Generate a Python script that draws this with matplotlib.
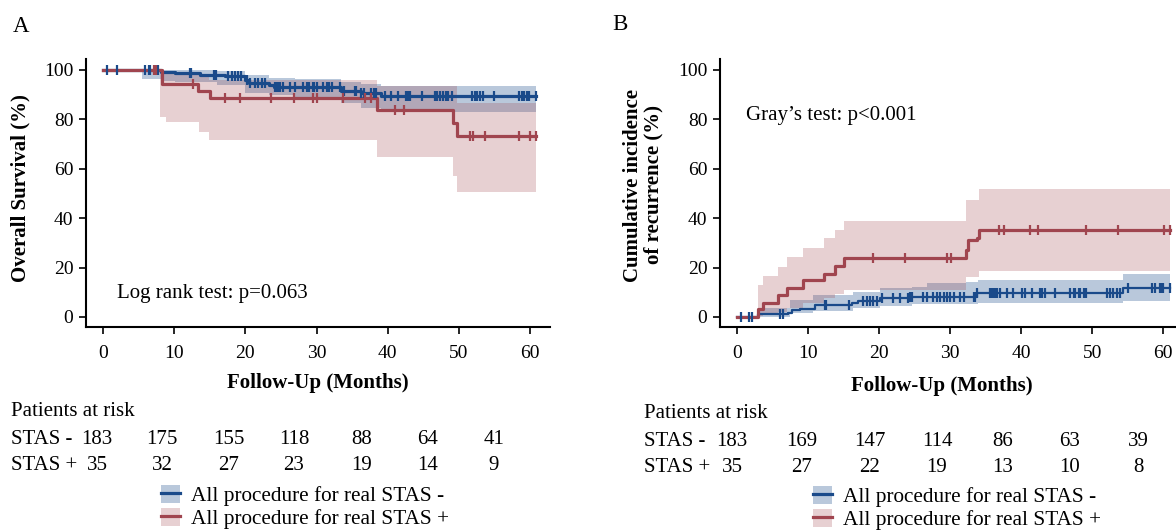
import numpy as np
import matplotlib
matplotlib.use('Agg')
import matplotlib.pyplot as plt
from matplotlib.patches import Patch
from matplotlib.lines import Line2D
from matplotlib.legend_handler import HandlerTuple

plt.rcParams['font.family'] = ['Liberation Serif', 'DejaVu Serif']

# ---- panel A: overall survival (Kaplan-Meier) ----
a_neg_t = [0, 8.2, 10.1, 13.6, 17.1, 20.0, 20.5, 23.3, 24.0, 33.4, 36.3, 39.1]
a_neg_s = [100, 99.3, 98.6, 98.0, 97.6, 96.0, 94.9, 93.9, 93.2, 91.6, 90.6, 89.6]
a_neg_cens = [0.5, 1.9, 5.9, 6.4, 6.6, 7.7, 12.2, 12.4, 15.6, 15.8, 17.6, 18.1, 18.6, 19.0, 19.4,
              20.2, 20.7, 21.3, 21.8, 22.3, 22.8, 24.2, 24.4, 24.7, 24.9, 25.3, 26.3, 27.0, 28.1,
              28.6, 29.0, 29.5, 29.7, 30.1, 30.9, 31.4, 31.8, 32.1, 33.3, 33.8, 35.4, 35.6, 36.3,
              36.6, 37.6, 38.0, 38.4, 39.6, 40.5, 41.5, 42.6, 42.9, 43.1, 44.8, 46.6, 46.9, 47.3,
              47.8, 48.2, 48.5, 49.0, 51.8, 52.3, 52.6, 53.0, 53.4, 55.0, 58.4, 58.8, 59.1, 59.6,
              59.9, 60.9]
a_neg_band_t = [5.5, 8.2, 10.1, 16.0, 20.0, 23.3, 27.0, 33.4, 36.3, 39.1, 60.9]
a_neg_hi = [100, 100, 100, 99.5, 98.0, 96.6, 96.2, 95.3, 94.3, 93.5, 93.5]
a_neg_lo = [96.4, 95.7, 95.2, 93.9, 90.6, 89.9, 88.5, 86.5, 84.5, 83.1, 83.1]

a_pos_t = [0, 8.3, 13.4, 15.0, 38.5, 49.1, 49.7]
a_pos_s = [100, 94.3, 91.4, 88.6, 83.9, 78.5, 73.3]
a_pos_cens = [7.1, 7.5, 12.6, 17.1, 19.2, 23.6, 26.8, 29.5, 30.1, 33.7, 36.8, 37.6, 41.0, 42.3,
              51.5, 52.0, 53.7, 58.5, 60.0, 60.9]
a_pos_band_t = [8.0, 8.8, 13.5, 14.9, 38.5, 49.1, 49.7, 60.9]
a_pos_hi = [99.0, 99.0, 97.5, 96.0, 93.5, 93.5, 86.8, 86.8]
a_pos_lo = [81.0, 78.8, 75.0, 71.7, 64.9, 57.0, 50.5, 50.5]

# ---- panel B: cumulative incidence of recurrence ----
b_neg_t = [0, 3.0, 7.2, 7.7, 8.9, 11.0, 16.2, 17.1, 20.1, 24.4, 33.8, 54.4]
b_neg_v = [0, 1.2, 1.7, 2.8, 3.4, 4.9, 5.8, 6.5, 7.6, 8.2, 9.6, 11.6]
b_neg_cens = [0.5, 1.7, 2.1, 6.1, 6.5, 12.4, 12.6, 15.7, 17.8, 18.3, 18.7, 19.2, 19.7, 20.4,
              22.0, 23.0, 24.1, 24.4, 24.6, 26.2, 26.7, 27.6, 28.1, 28.6, 29.1, 29.5, 30.0,
              30.5, 31.4, 31.9, 33.3, 33.5, 33.8, 35.6, 35.9, 36.1, 36.3, 36.6, 37.0, 38.0,
              38.9, 40.1, 40.6, 41.5, 42.7, 42.9, 43.4, 44.8, 46.9, 47.4, 47.6, 48.1, 48.3,
              48.8, 49.2, 52.1, 52.5, 53.0, 53.5, 53.9, 55.1, 58.4, 58.9, 59.6, 59.8, 60.0, 61.0]
b_neg_band_t = [3.0, 7.5, 10.7, 16.4, 20.1, 24.6, 26.7, 32.3, 33.9, 54.4, 61.0]
b_neg_hi = [3.5, 6.9, 8.9, 10.3, 11.6, 12.2, 13.6, 14.3, 15.0, 17.3, 17.3]
b_neg_lo = [0.2, 1.5, 2.6, 3.5, 4.5, 5.3, 5.3, 5.3, 5.8, 6.6, 6.6]

b_pos_t = [0, 2.9, 3.7, 5.8, 7.1, 9.3, 12.2, 13.8, 15.0, 32.3, 32.5, 33.8, 34.0]
b_pos_v = [0, 3.1, 5.8, 8.9, 11.9, 15.0, 17.4, 20.6, 23.8, 27.1, 31.2, 31.9, 35.2]
b_pos_cens = [19.2, 23.7, 29.5, 30.1, 36.9, 37.6, 41.2, 42.4, 49.1, 53.7, 60.1, 61.0]
b_pos_band_t = [2.9, 3.7, 5.8, 7.1, 9.3, 12.2, 13.8, 15.0, 32.3, 34.0, 61.0]
b_pos_hi = [13.0, 16.6, 20.4, 24.4, 28.1, 31.9, 35.2, 39.0, 47.4, 51.7, 51.7]
b_pos_lo = [0.3, 1.0, 2.0, 3.5, 5.5, 7.5, 9.5, 10.9, 16.0, 18.8, 18.8]

risk_times = [0, 10, 20, 30, 40, 50, 60]
a_risk_neg = [183, 175, 155, 118, 88, 64, 41]
a_risk_pos = [35, 32, 27, 23, 19, 14, 9]
b_risk_neg = [183, 169, 147, 114, 86, 63, 39]
b_risk_pos = [35, 27, 22, 19, 13, 10, 8]

labels = ['All procedure for real STAS -', 'All procedure for real STAS +']
blue = '#1a4a8a'
red = '#a0454f'
blue_a, red_a = 0.3, 0.25
fs = 15

W, H = 1176, 530
fig = plt.figure(figsize=(W / 100, H / 100), dpi=100)


def fx(px):
    return px / W


def fy(py):
    return 1 - py / H


def step_at(t, v, x):
    idx = np.searchsorted(t, x, side='right') - 1
    return np.asarray(v)[idx]


def curve(ax, t, v, cens, t_end, color, lw):
    tt = np.append(t, t_end)
    vv = np.append(v, v[-1])
    ax.plot(tt, vv, drawstyle='steps-post', color=color, lw=lw)
    return (cens, step_at(t, v, cens), color)


def band(ax, bt, lo, hi, color, alpha):
    ax.fill_between(bt, lo, hi, step='post', color=color, alpha=alpha, lw=0)


def style(ax, xlim):
    ax.set_xlim(*xlim)
    ax.set_ylim(-4.05, 104.45)
    ax.set_xticks(risk_times)
    ax.set_yticks([0, 20, 40, 60, 80, 100])
    for s in ['top', 'right']:
        ax.spines[s].set_visible(False)
    for s in ['left', 'bottom']:
        ax.spines[s].set_linewidth(1.5)
    ax.tick_params(labelsize=14, width=1.2, length=5, pad=4)
    ax.tick_params(axis='x', pad=8)


axA = fig.add_axes([fx(86), fy(327), 464 / W, 268 / H])
band(axA, a_neg_band_t, a_neg_lo, a_neg_hi, blue, blue_a)
band(axA, a_pos_band_t, a_pos_lo, a_pos_hi, red, red_a)
m1 = curve(axA, a_neg_t, a_neg_s, a_neg_cens, 60.9, blue, 2.3)
m2 = curve(axA, a_pos_t, a_pos_s, a_pos_cens, 60.9, red, 2.3)
for c, y, col in [m1, m2]:
    axA.plot(c, y, ls='none', marker='|', ms=7, mew=1.6, color=col)
style(axA, (-2.4, 62.8))
axA.text(2.0, 9.5, 'Log rank test: p=0.063', fontsize=fs, va='center')

axB = fig.add_axes([fx(720), fy(327), 456 / W, 268 / H])
band(axB, b_neg_band_t, b_neg_lo, b_neg_hi, blue, blue_a)
band(axB, b_pos_band_t, b_pos_lo, b_pos_hi, red, red_a)
m1 = curve(axB, b_neg_t, b_neg_v, b_neg_cens, 61.0, blue, 1.6)
m2 = curve(axB, b_pos_t, b_pos_v, b_pos_cens, 61.0, red, 2.3)
for c, y, col in [m1, m2]:
    axB.plot(c, y, ls='none', marker='|', ms=7, mew=1.6, color=col)
style(axB, (-2.39, 61.8))
axB.text(1.3, 81.5, 'Gray\u2019s test: p<0.001', fontsize=fs, va='center')

# axis titles and panel letters
fig.text(fx(21), fy(27), 'A', fontsize=16.5, ha='center', va='center')
fig.text(fx(620), fy(24), 'B', fontsize=16.5, ha='center', va='center')
fig.text(fx(20), fy(188), 'Overall Survival (%)', fontsize=fs, fontweight='bold',
         rotation=90, ha='center', va='center')
fig.text(fx(643), fy(185), 'Cumulative incidence\nof recurrence (%)', fontsize=fs,
         fontweight='bold', rotation=90, ha='center', va='center', linespacing=1.05)
fig.text(fx(318), fy(383), 'Follow-Up (Months)', fontsize=fs, fontweight='bold',
         ha='center', va='center')
fig.text(fx(942), fy(386), 'Follow-Up (Months)', fontsize=fs, fontweight='bold',
         ha='center', va='center')

# patients at risk tables
def risk_table(x0, y0, centers, neg, pos):
    fig.text(fx(x0), fy(y0), 'Patients at risk', fontsize=fs, va='center')
    fig.text(fx(x0), fy(y0 + 28), 'STAS -', fontsize=fs, va='center')
    fig.text(fx(x0), fy(y0 + 55), 'STAS +', fontsize=fs, va='center')
    for cx, n1, n2 in zip(centers, neg, pos):
        fig.text(fx(cx), fy(y0 + 28), str(n1), fontsize=fs, ha='center', va='center')
        fig.text(fx(cx), fy(y0 + 55), str(n2), fontsize=fs, ha='center', va='center')


risk_table(11, 411, [97, 162, 229, 294, 362, 428, 494], a_risk_neg, a_risk_pos)
risk_table(644, 413, [732, 802, 870, 937, 1003, 1070, 1138], b_risk_neg, b_risk_pos)

handles = [(Patch(facecolor=blue, alpha=blue_a, lw=0), Line2D([], [], color=blue, lw=2.3)),
           (Patch(facecolor=red, alpha=red_a, lw=0), Line2D([], [], color=red, lw=2.3))]
for x0, y0 in [(161, 485), (813, 486)]:
    fig.legend(handles, labels, loc='upper left', bbox_to_anchor=(fx(x0), fy(y0)),
               frameon=False, fontsize=15.3, handlelength=0.9, handleheight=0.9,
               handletextpad=0.5, labelspacing=0.1, borderpad=0, borderaxespad=0,
               handler_map={tuple: HandlerTuple(ndivide=1, pad=0)})

fig.savefig('out.png', dpi=100)
